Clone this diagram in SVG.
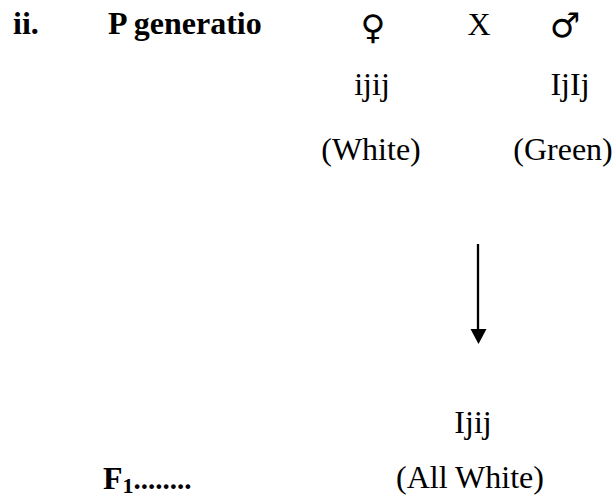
<svg xmlns="http://www.w3.org/2000/svg" width="615" height="499" viewBox="0 0 615 499">
<style>
text{font-family:"Liberation Serif","Times New Roman",serif;font-size:32px;fill:#000}
.b{font-weight:bold}
.sym{font-family:"DejaVu Sans","Liberation Serif",sans-serif;font-size:34px}
</style>
<rect width="615" height="499" fill="#fff"/>
<g id="label-ii"><text class="b" x="13" y="34">ii.</text></g>
<g id="p-generation"><text class="b" x="108" y="34">P generatio</text></g>
<g id="female">
<text class="sym" x="373" y="39" text-anchor="middle">♀</text>
<text x="372" y="95" text-anchor="middle">ijij</text>
<text x="371" y="160" text-anchor="middle">(White)</text>
</g>
<g id="cross"><text x="479" y="35" text-anchor="middle">X</text></g>
<g id="male">
<text class="sym" x="565" y="37" text-anchor="middle">♂</text>
<text x="570" y="95" text-anchor="middle">IjIj</text>
<text x="563" y="160" text-anchor="middle">(Green)</text>
</g>
<g id="connectors">
<line x1="478" y1="244" x2="478" y2="331" stroke="#000" stroke-width="2.3"/>
<polygon points="470.5,329 486.5,329 478.5,344" fill="#000"/>
</g>
<g id="f1-offspring">
<text x="473" y="433" text-anchor="middle">Ijij</text>
<text x="470" y="488" text-anchor="middle">(All White)</text>
</g>
<g id="f1-label"><text x="103" y="489"><tspan class="b">F</tspan><tspan class="b" font-size="22" dy="4">1</tspan><tspan font-size="29" font-weight="bold" dy="-4">........</tspan></text></g>
</svg>
